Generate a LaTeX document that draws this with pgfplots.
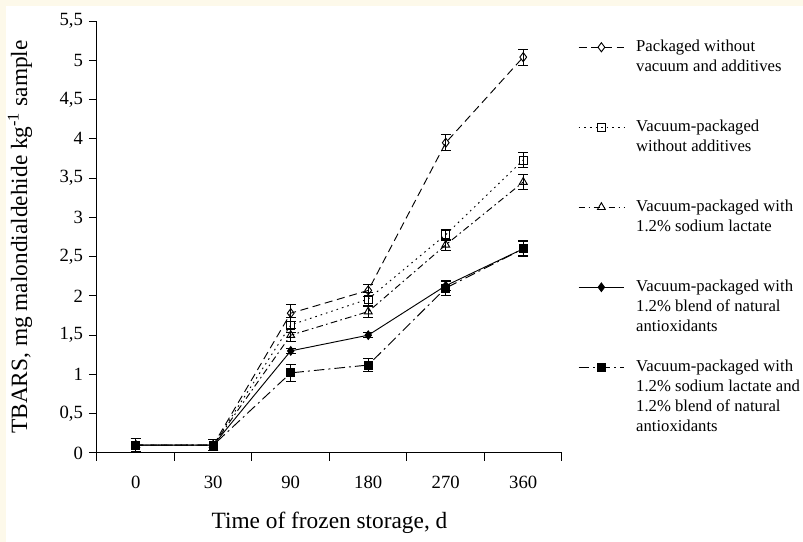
\documentclass[border=0pt]{standalone}
\usepackage{fontspec}
\setmainfont{Liberation Serif}
\usepackage{pgfplots}
\pgfplotsset{compat=1.18}
\definecolor{cream}{RGB}{253,249,234}

\begin{document}
\begin{tikzpicture}
% card background: thin cream edge at top and left
\fill[cream] (0,0) rectangle (602.25pt,406.5pt);
\fill[white] (4.5pt,0) rectangle (602.25pt,402pt);
\begin{axis}[
    at={(72.75pt,66.75pt)}, anchor=south west,
    scale only axis, width=348.75pt, height=324pt,
    xmin=-0.5, xmax=5.5, ymin=0, ymax=5.5,
    clip=false,
    axis x line*=bottom, axis y line*=left,
    axis line style={line width=0.75pt, -},
    xtick={0,1,2,3,4,5}, xticklabels={0,30,90,180,270,360},
    minor xtick={-0.5,0.5,1.5,2.5,3.5,4.5,5.5},
    ytick={0,0.5,1,1.5,2,2.5,3,3.5,4,4.5,5,5.5},
    tick align=outside, major tick length=6pt, minor tick length=6pt,
    major x tick style={draw=none},
    every tick/.style={black, line width=0.75pt},
    /pgf/number format/.cd, use comma, 1000 sep={}, assume math mode=true,
    /pgfplots/.cd,
    tick label style={font=\fontsize{14}{16}\selectfont},
    xticklabel style={yshift=-8pt},
    yticklabel style={xshift=-1pt},
    xlabel={Time of frozen storage, d},
    ylabel={TBARS, mg malondialdehide kg\textsuperscript{-1} sample},
    label style={font=\fontsize{17.5}{21}\selectfont},
    xlabel style={at={(axis description cs:0.5,-0.162)}, anchor=center},
    ylabel style={at={(axis description cs:-0.1656,0.5)}, anchor=center},
    legend style={at={(axis description cs:1.0344,0.963)}, anchor=north west,
        draw=none, fill=none, inner sep=0pt, row sep=0pt,
        /tikz/column sep=8.75pt,
        font=\fontsize{12.5}{15}\selectfont,
        nodes={inner sep=0pt, text height=10.5pt, text depth=4.5pt}},
    legend cell align=left,
    legend image code/.code={
        \draw[mark repeat=2, mark phase=2, #1]
            plot coordinates {(0pt,0pt) (17pt,0pt) (34pt,0pt)};},
    every axis plot/.append style={black, line width=0.7pt},
    error bars/y dir=both, error bars/y explicit,
    error bars/error bar style={solid, line width=0.7pt},
    error bars/error mark options={solid, rotate=90, mark size=3.6pt, line width=0.7pt},
]
% Packaged without vacuum and additives
\addplot[dash pattern=on 6pt off 3.5pt, mark=diamond,
    mark options={solid, fill=white}, mark size=3.4pt]
    coordinates {(0,0.10) +- (0,0.08) (1,0.10) +- (0,0.07) (2,1.78) +- (0,0.11)
                 (3,2.07) +- (0,0.08) (4,3.95) +- (0,0.10) (5,5.04) +- (0,0.10)};
\addlegendentry{Packaged without}
\addlegendimage{empty legend}\addlegendentry{vacuum and additives}
\addlegendimage{empty legend}\addlegendentry{\mbox{}}
\addlegendimage{empty legend}\addlegendentry{\mbox{}}
% Vacuum-packaged without additives
\addplot[dash pattern=on 1.2pt off 3pt, mark=square,
    mark options={solid, fill=white}, mark size=3pt]
    coordinates {(0,0.10) +- (0,0.08) (1,0.10) +- (0,0.07) (2,1.63) +- (0,0.10)
                 (3,1.96) +- (0,0.08) (4,2.78) +- (0,0.07) (5,3.73) +- (0,0.09)};
\addlegendentry{Vacuum-packaged}
\addlegendimage{empty legend}\addlegendentry{without additives}
\addlegendimage{empty legend}\addlegendentry{\mbox{}}
\addlegendimage{empty legend}\addlegendentry{\mbox{}}
% Vacuum-packaged with 1.2% sodium lactate
\addplot[dash pattern=on 5pt off 2.5pt on 1.2pt off 2.5pt, mark=triangle,
    mark options={solid, fill=white}, mark size=3.4pt]
    coordinates {(0,0.10) +- (0,0.08) (1,0.10) +- (0,0.07) (2,1.50) +- (0,0.08)
                 (3,1.80) +- (0,0.07) (4,2.65) +- (0,0.07) (5,3.45) +- (0,0.09)};
\addlegendentry{Vacuum-packaged with}
\addlegendimage{empty legend}\addlegendentry{1.2\% sodium lactate}
\addlegendimage{empty legend}\addlegendentry{\mbox{}}
\addlegendimage{empty legend}\addlegendentry{\mbox{}}
% Vacuum-packaged with 1.2% blend of natural antioxidants
\addplot[solid, mark=diamond*, mark options={solid, fill=black}, mark size=3.2pt]
    coordinates {(0,0.10) +- (0,0.08) (1,0.10) +- (0,0.07) (2,1.30) +- (0,0.03)
                 (3,1.50) +- (0,0.03) (4,2.13) +- (0,0.06) (5,2.60) +- (0,0.09)};
\addlegendentry{Vacuum-packaged with}
\addlegendimage{empty legend}\addlegendentry{1.2\% blend of natural}
\addlegendimage{empty legend}\addlegendentry{antioxidants}
\addlegendimage{empty legend}\addlegendentry{\mbox{}}
% Vacuum-packaged with 1.2% sodium lactate and 1.2% blend of natural antioxidants
\addplot[dash pattern=on 8pt off 3pt on 1.5pt off 3pt, mark=square*,
    mark options={solid, fill=black}, mark size=3pt]
    coordinates {(0,0.10) +- (0,0.08) (1,0.10) +- (0,0.07) (2,1.02) +- (0,0.11)
                 (3,1.12) +- (0,0.08) (4,2.10) +- (0,0.10) (5,2.60) +- (0,0.10)};
\addlegendentry{Vacuum-packaged with}
\addlegendimage{empty legend}\addlegendentry{1.2\% sodium lactate and}
\addlegendimage{empty legend}\addlegendentry{1.2\% blend of natural}
\addlegendimage{empty legend}\addlegendentry{antioxidants}
\end{axis}
\pgfresetboundingbox
\useasboundingbox (0,0) rectangle (602.25pt,406.5pt);
\end{tikzpicture}
\end{document}
